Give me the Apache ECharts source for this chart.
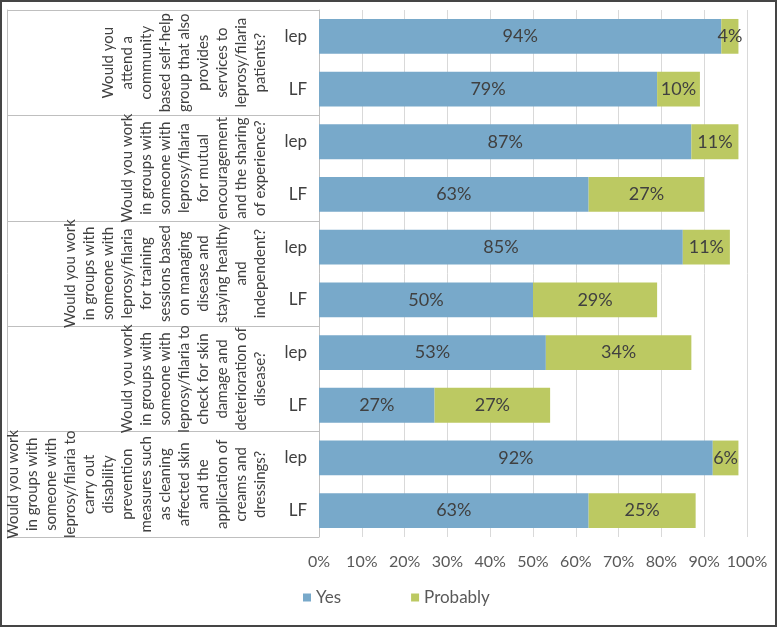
<!DOCTYPE html>
<html style="height: 100%">
<head>
  <meta charset="utf-8">
</head>
<body style="height: 100%; margin: 0">
  <div id="container" style="width: 778px; height: 628px"></div>

  <script src="https://cdn.jsdelivr.net/npm/echarts@6/dist/echarts.min.js"></script>
  <script type="text/javascript">
    var questions = [
      'Would you\nattend a\ncommunity\nbased self-help\ngroup that also\nprovides\nservices to\nleprosy/filaria\npatients?',
      'Would you work\nin groups with\nsomeone with\nleprosy/filaria\nfor mutual\nencouragement\nand the sharing\nof experience?',
      'Would you work\nin groups with\nsomeone with\nleprosy/filaria\nfor training\nsessions based\non managing\ndisease and\nstaying healthy\nand\nindependent?',
      'Would you work\nin groups with\nsomeone with\nleprosy/filaria to\ncheck for skin\ndamage and\ndeterioration of\ndisease?',
      'Would you work\nin groups with\nsomeone with\nleprosy/filaria to\ncarry out\ndisability\nprevention\nmeasures such\nas cleaning\naffected skin\nand the\napplication of\ncreams and\ndressings?'
    ];
    var groups = ['lep', 'LF', 'lep', 'LF', 'lep', 'LF', 'lep', 'LF', 'lep', 'LF'];
    var yesValues = [94, 79, 87, 63, 85, 50, 53, 27, 92, 63];
    var probablyValues = [4, 10, 11, 27, 11, 29, 34, 27, 6, 25];
    var xTicks = [0, 10, 20, 30, 40, 50, 60, 70, 80, 90, 100];

    var font = 'Lato';
    var lineColor = '#bfbfbf';
    var textColor = '#404040';

    var dom = document.getElementById('container');
    var myChart = echarts.init(dom, null, { renderer: 'canvas' });
    var option;

    function barSeries(name, values, color) {
      return {
        name: name,
        type: 'bar',
        stack: 'answers',
        barWidth: '66%',
        data: values,
        itemStyle: { color: color },
        label: {
          show: true,
          position: 'inside',
          formatter: '{c}%',
          fontFamily: font,
          fontSize: 18,
          color: textColor
        }
      };
    }

    option = {
      animation: false,
      backgroundColor: '#fff',
      textStyle: { fontFamily: font },
      graphic: [
        {
          type: 'rect',
          shape: { x: 1, y: 1, width: 775, height: 625 },
          style: { fill: 'none', stroke: '#454545', lineWidth: 2 },
          z: 100
        }
      ],
      grid: { left: 319, right: 31, top: 10, bottom: 91 },
      legend: {
        data: ['Yes', 'Probably'],
        left: 298,
        top: 584,
        icon: 'rect',
        itemWidth: 8,
        itemHeight: 8,
        itemGap: 70,
        textStyle: { fontFamily: font, fontSize: 17, color: '#595959' }
      },
      xAxis: {
        type: 'value',
        min: xTicks[0],
        max: xTicks[xTicks.length - 1],
        interval: xTicks[1] - xTicks[0],
        axisLine: { show: false },
        axisTick: { show: false },
        axisLabel: {
          formatter: '{value}%',
          fontFamily: font,
          fontSize: 16,
          color: '#595959',
          margin: 17
        },
        splitLine: { lineStyle: { color: '#d9d9d9' } }
      },
      yAxis: [
        {
          type: 'category',
          position: 'left',
          inverse: true,
          data: groups,
          axisLine: { show: true, lineStyle: { color: lineColor } },
          axisTick: { show: false },
          axisLabel: { fontFamily: font, fontSize: 17, color: textColor, margin: 12 }
        },
        {
          type: 'category',
          position: 'left',
          inverse: true,
          data: questions,
          axisLine: { show: false },
          axisTick: { show: true, length: 312, lineStyle: { color: lineColor } },
          axisLabel: {
            interval: 0,
            rotate: 90,
            margin: 49,
            fontFamily: font,
            fontSize: 15,
            lineHeight: 19,
            color: textColor
          }
        },
        {
          type: 'category',
          position: 'left',
          offset: 312,
          inverse: true,
          data: questions,
          axisLine: { show: true, lineStyle: { color: lineColor } },
          axisTick: { show: false },
          axisLabel: { show: false }
        }
      ],
      series: [
        barSeries('Yes', yesValues, '#78a9ca'),
        barSeries('Probably', probablyValues, '#bcc962')
      ]
    };

    myChart.setOption(option);
    window.addEventListener('resize', myChart.resize);
  </script>
</body>
</html>
